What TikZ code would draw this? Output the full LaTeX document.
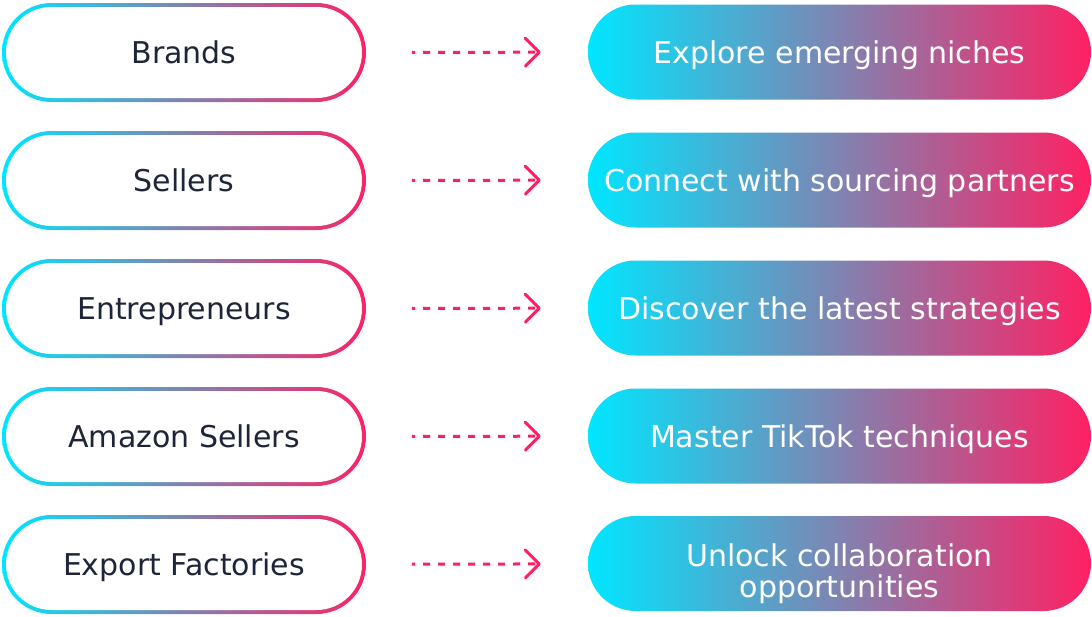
\documentclass[tikz,border=0pt]{standalone}
\usepackage{fontspec}
\setmainfont{DejaVu Sans}
\usetikzlibrary{arrows.meta}

\definecolor{tkcyan}{HTML}{00E6FF}
\definecolor{tkpink}{HTML}{FF2063}
\definecolor{tknavy}{HTML}{1E2538}

\tikzset{
	who/.style={rectangle, rounded corners=49.5pt, minimum width=364pt, minimum height=99pt,
		inner sep=0pt, left color=tkcyan, right color=tkpink, text=tknavy,
		text height=22pt, text depth=0pt,
		path picture={\fill[white, rounded corners=45.5pt]
			([shift={(4pt,-4pt)}]path picture bounding box.north west) rectangle
			([shift={(-4pt,4pt)}]path picture bounding box.south east);}},
	goal/.style={rectangle, rounded corners=47.5pt, minimum width=503pt, minimum height=95pt,
		inner sep=0pt, left color=tkcyan, right color=tkpink, text=white, align=center,
		text height=22pt, text depth=0pt},
	link/.style={tkpink, line width=3pt, dash pattern=on 7pt off 8pt, dash phase=4pt,
		shorten <=46pt, shorten >=47pt, -{Straight Barb[length=14pt, width=28pt, round]}}
}

\begin{document}
\begin{tikzpicture}[x=1pt, y=-1pt, font=\fontsize{30}{31}\selectfont]
	
	\useasboundingbox (0,0) rectangle (1092,616);
	
	% who comes
	\node[who] (w1) at (184,52.5) {Brands};
	\node[who] (w2) at (184,180.5) {Sellers};
	\node[who] (w3) at (184,308.5) {Entrepreneurs};
	\node[who] (w4) at (184,436.5) {Amazon Sellers};
	\node[who] (w5) at (184,564.5) {Export Factories};
	
	% what they get
	\node[goal] (g1) at (839.5,52) {Explore emerging niches};
	\node[goal] (g2) at (839.5,180) {Connect with sourcing partners};
	\node[goal] (g3) at (839.5,308) {Discover the latest strategies};
	\node[goal] (g4) at (839.5,436) {Master TikTok techniques};
	\node[goal, text height=67pt] (g5) at (839.5,563.5) {Unlock collaboration\\opportunities};
	
	\draw[link] (w1) -- (g1);
	\draw[link] (w2) -- (g2);
	\draw[link] (w3) -- (g3);
	\draw[link] (w4) -- (g4);
	\draw[link] (w5) -- (g5);
\end{tikzpicture}
\end{document}
